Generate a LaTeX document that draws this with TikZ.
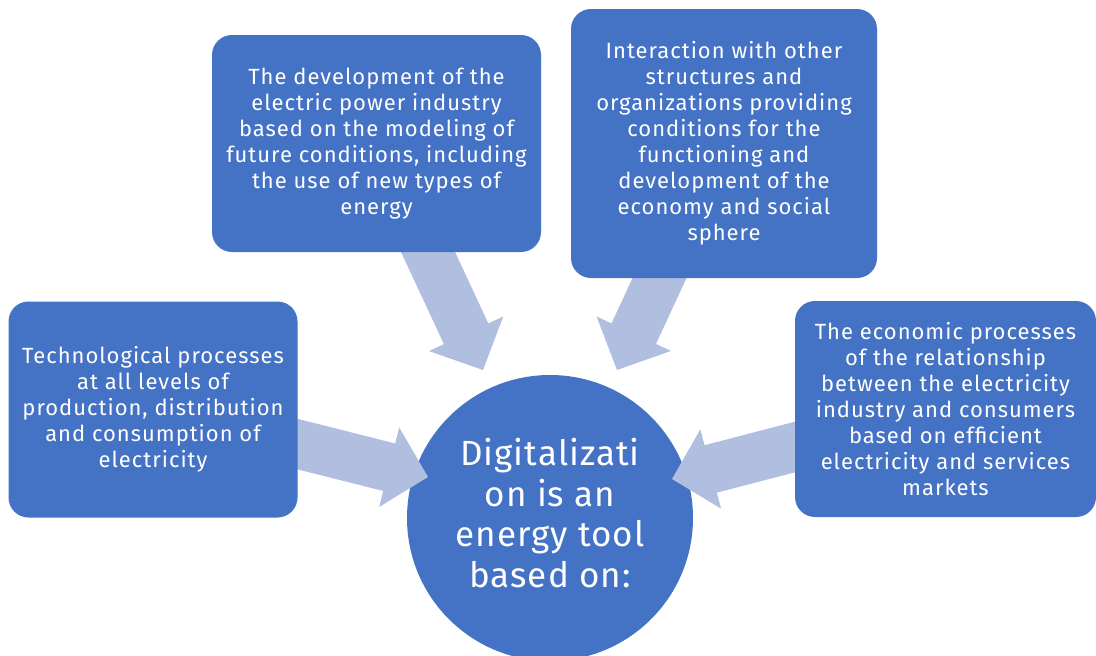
\documentclass[tikz,border=0pt]{standalone}
\usepackage{fontspec}
\setmainfont{Fira Sans}
\newfontfamily\boxfont[LetterSpace=4.5]{Fira Sans}
\newfontfamily\hubfont[LetterSpace=3]{Fira Sans}
\usetikzlibrary{calc}
\definecolor{boxblue}{HTML}{4472C4}
\definecolor{arrowfill}{HTML}{B0BEDF}
% Block arrow from #1 (middle of the shaft's base) to #2 (tip)
\newcommand\bigarrow[2]{%
  \coordinate (hb) at ($(#2)!40pt!(#1)$);
  \fill[arrowfill]
    ($(#1)!24.5pt!90:(#2)$) --
    ($(hb)!24.5pt!-90:(#1)$) --
    ($(hb)!41pt!-90:(#1)$) --
    (#2) --
    ($(hb)!41pt!90:(#1)$) --
    ($(hb)!24.5pt!90:(#1)$) --
    ($(#1)!24.5pt!-90:(#2)$) -- cycle;
}
\tikzset{
  infobox/.style={fill=boxblue, rounded corners=20pt, inner sep=0pt,
    text=white, align=center,
    font=\boxfont\fontsize{22}{26}\selectfont},
  hub/.style={circle, fill=boxblue, minimum size=286pt, inner sep=0pt},
  hubtext/.style={text=white, align=center,
    font=\hubfont\fontsize{35}{40.5}\selectfont},
}
\begin{document}
\begin{tikzpicture}[x=1pt, y=-1pt]
\useasboundingbox (0,0) rectangle (1096,656);
\clip (0,0) rectangle (1096,656);

% central circle
\node[hub] (hub) at (550,518) {};

% block arrows pointing into the circle (bases tucked under the boxes)
\coordinate (techS)  at (282.5,440.3); \coordinate (techT)  at (428,477);
\coordinate (powerS) at (421.7,238.4); \coordinate (powerT) at (483,370);
\coordinate (interS) at (665.8,264.4); \coordinate (interT) at (617,370);
\coordinate (econS)  at (809.5,443.2); \coordinate (econT)  at (672,479);
\bigarrow{techS}{techT}
\bigarrow{powerS}{powerT}
\bigarrow{interS}{interT}
\bigarrow{econS}{econT}

\node[hubtext] (hublabel) at (550,513)
  {Digitalizati\\on is an\\energy tool\\based on:};

% surrounding boxes
\node[infobox, minimum width=289pt, minimum height=216pt] (tech) at (153,409.5)
  {Technological processes\\at all levels of\\production, distribution\\and consumption of\\electricity};
\node[infobox, minimum width=329pt, minimum height=217pt] (power) at (376.5,143.5)
  {The development of the\\electric power industry\\based on the modeling of\\future conditions, including\\the use of new types of\\energy};
\node[infobox, minimum width=306pt, minimum height=269pt] (inter) at (724,143.5)
  {Interaction with other\\structures and\\organizations providing\\conditions for the\\functioning and\\development of the\\economy and social\\sphere};
\node[infobox, minimum width=301pt, minimum height=216pt] (econ) at (945.5,409)
  {The economic processes\\of the relationship\\between the electricity\\industry and consumers\\based on efficient\\electricity and services\\markets};
\end{tikzpicture}
\end{document}
